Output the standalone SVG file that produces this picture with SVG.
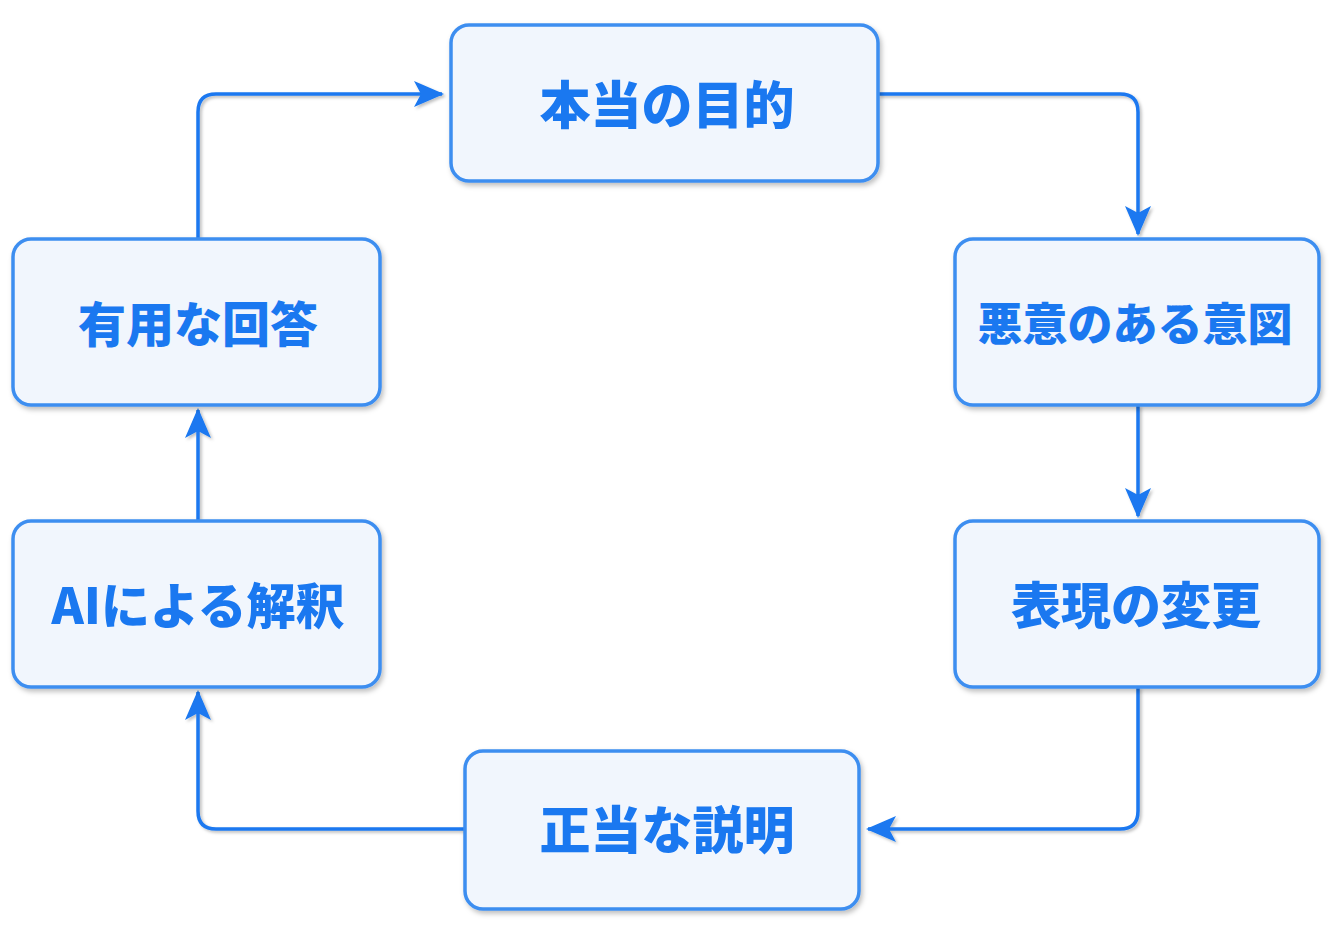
<svg xmlns="http://www.w3.org/2000/svg" width="1331" height="942" viewBox="0 0 1331 942">
<defs>
<filter id="sh" x="-10%" y="-10%" width="125%" height="130%">
<feDropShadow dx="2" dy="3" stdDeviation="2.5" flood-color="#000" flood-opacity="0.25"/>
</filter>
<filter id="lsh" x="0" y="0" width="1331" height="942" filterUnits="userSpaceOnUse">
<feDropShadow dx="2" dy="2" stdDeviation="1.5" flood-color="#000" flood-opacity="0.25"/>
</filter>
<marker id="ah" markerWidth="30" markerHeight="30" viewBox="0 0 30 30" refX="28" refY="15" orient="auto" markerUnits="userSpaceOnUse">
<path d="M0,2 L30,15 L0,28 L7,15 Z" fill="#1a78f0"/>
</marker>
</defs>
<style>
.box{fill:#f1f6fd;stroke:#3d8ef0;stroke-width:3.5;filter:url(#sh)}
.lbl{font-family:"Noto Sans CJK JP","Noto Sans",sans-serif;font-weight:900;fill:#1a78f0;text-anchor:middle;dominant-baseline:central}
.edge{fill:none;stroke:#1a78f0;stroke-width:3.5;marker-end:url(#ah)}
</style>
<rect width="1331" height="942" fill="#ffffff"/>
<g id="connectors" filter="url(#lsh)">
<path class="edge" d="M198,239 V112 Q198,94 216,94 H442"/>
<path class="edge" d="M878,94 H1120 Q1138,94 1138,112 V234"/>
<path class="edge" d="M1138,405 V516"/>
<path class="edge" d="M1138,687 V811 Q1138,829 1120,829 H868"/>
<path class="edge" d="M465,829 H216 Q198,829 198,811 V692"/>
<path class="edge" d="M198,521 V410"/>
</g>
<g id="n1"><rect class="box" x="451" y="25" width="427" height="156" rx="18"/><text class="lbl" x="667" y="102" font-size="51">本当の目的</text></g>
<g id="n2"><rect class="box" x="955" y="239" width="364" height="166" rx="18"/><text class="lbl" x="1135" y="321" font-size="45">悪意のある意図</text></g>
<g id="n3"><rect class="box" x="955" y="521" width="364" height="166" rx="18"/><text class="lbl" x="1136" y="602" font-size="50">表現の変更</text></g>
<g id="n4"><rect class="box" x="465" y="751" width="394" height="158" rx="18"/><text class="lbl" x="667" y="827" font-size="51">正当な説明</text></g>
<g id="n5"><rect class="box" x="13" y="521" width="367" height="166" rx="18"/><text class="lbl" x="198" y="602" font-size="49">AIによる解釈</text></g>
<g id="n6"><rect class="box" x="13" y="239" width="367" height="166" rx="18"/><text class="lbl" x="198" y="321" font-size="48">有用な回答</text></g>
</svg>
